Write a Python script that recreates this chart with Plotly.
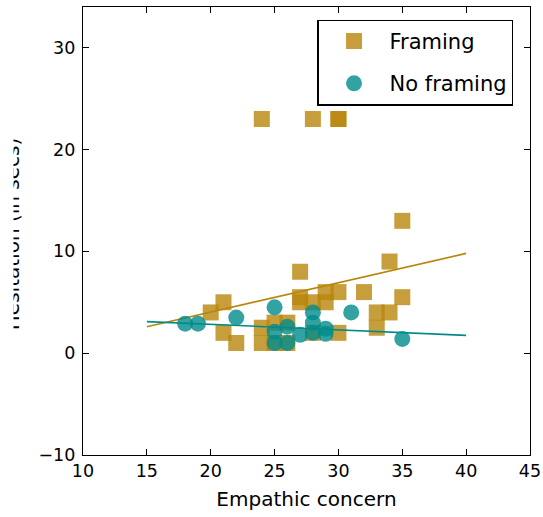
import plotly.graph_objects as go

# ---- data ----
framing_x = [20, 21, 21, 22, 24, 24, 24, 25, 25, 26, 26, 27, 27, 27, 28, 28, 28,
             29, 29, 30, 30, 30, 30, 32, 33, 33, 34, 34, 35, 35]
framing_y = [4, 5, 2, 1, 23, 2.5, 1, 3, 1, 3, 1, 8, 5.5, 5, 23, 5, 2,
             6, 5, 23, 23, 6, 2, 6, 4, 2.5, 9, 4, 13, 5.5]

noframing_x = [18, 19, 22, 25, 25, 25, 26, 26, 27, 28, 28, 28, 29, 29, 31, 35]
noframing_y = [2.9, 2.9, 3.5, 4.5, 2.1, 1, 2.6, 1, 1.8, 4, 3, 2, 2.4, 1.9, 4, 1.4]

# regression lines (end points)
fit_x = [15, 40]
framing_fit_y = [2.6, 9.8]
noframing_fit_y = [3.1, 1.75]

x_ticks = [10, 15, 20, 25, 30, 35, 40, 45]
y_ticks = [-10, 0, 10, 20, 30]

series_names = ["Framing", "No framing"]
x_label = "Empathic concern"
y_label = "Hesitation (in secs)"

GOLD = "#B8860B"
TEAL = "#008B8B"
FONT = "DejaVu Sans"

fig = go.Figure()
fig.add_trace(go.Scatter(
    x=framing_x, y=framing_y, mode="markers", name=series_names[0],
    legendgroup="a",
    marker=dict(symbol="square", size=16, color=GOLD, opacity=0.8, line=dict(width=0)),
))
fig.add_trace(go.Scatter(
    x=fit_x, y=framing_fit_y, mode="lines", showlegend=False,
    line=dict(color=GOLD, width=1.6),
))
fig.add_trace(go.Scatter(
    x=noframing_x, y=noframing_y, mode="markers", name=series_names[1],
    legendgroup="b",
    marker=dict(symbol="circle", size=16, color=TEAL, opacity=0.8, line=dict(width=0)),
))
fig.add_trace(go.Scatter(
    x=fit_x, y=noframing_fit_y, mode="lines", showlegend=False,
    line=dict(color=TEAL, width=1.6),
))

axis_common = dict(
    showline=True, linecolor="black", linewidth=1.2, mirror="ticks",
    ticks="inside", ticklen=6, tickwidth=1, tickcolor="black",
    showgrid=False, zeroline=False,
    tickfont=dict(family=FONT, size=17.5, color="black"),
)

fig.update_xaxes(range=[10, 45], tickvals=x_ticks, ticklabelstandoff=0,
                 title=dict(text=x_label, font=dict(family=FONT, size=20, color="black"),
                            standoff=11),
                 **axis_common)
fig.update_yaxes(range=[-10, 34], tickvals=y_ticks, ticklabelstandoff=3,
                 **axis_common)

fig.update_layout(
    width=543, height=517,
    margin=dict(l=83, r=13, t=7, b=62, autoexpand=False),
    paper_bgcolor="white", plot_bgcolor="white",
    font=dict(family=FONT, color="black"),
    showlegend=True,
    legend=dict(
        x=0.524, xanchor="left", y=0.972, yanchor="top",
        bordercolor="black", borderwidth=1.3, bgcolor="white",
        font=dict(family=FONT, size=21, color="black"),
        itemwidth=61, tracegroupgap=12,
    ),
    annotations=[
        dict(text=y_label, textangle=-90, xref="paper", yref="paper",
             x=-0.160, y=0.494, xanchor="center", yanchor="middle",
             showarrow=False, font=dict(family=FONT, size=20, color="black")),
        # the reference crops the left part of the rotated label
        dict(text=" ", xref="paper", yref="paper", x=-0.1849, y=0.494,
             xanchor="left", yanchor="middle", showarrow=False,
             width=12, height=260, bgcolor="white", borderpad=0),
    ],
)

fig.write_html("out.html", config={"displayModeBar": False},
               post_script="document.body.style.margin='0';document.body.style.overflow='hidden';")
